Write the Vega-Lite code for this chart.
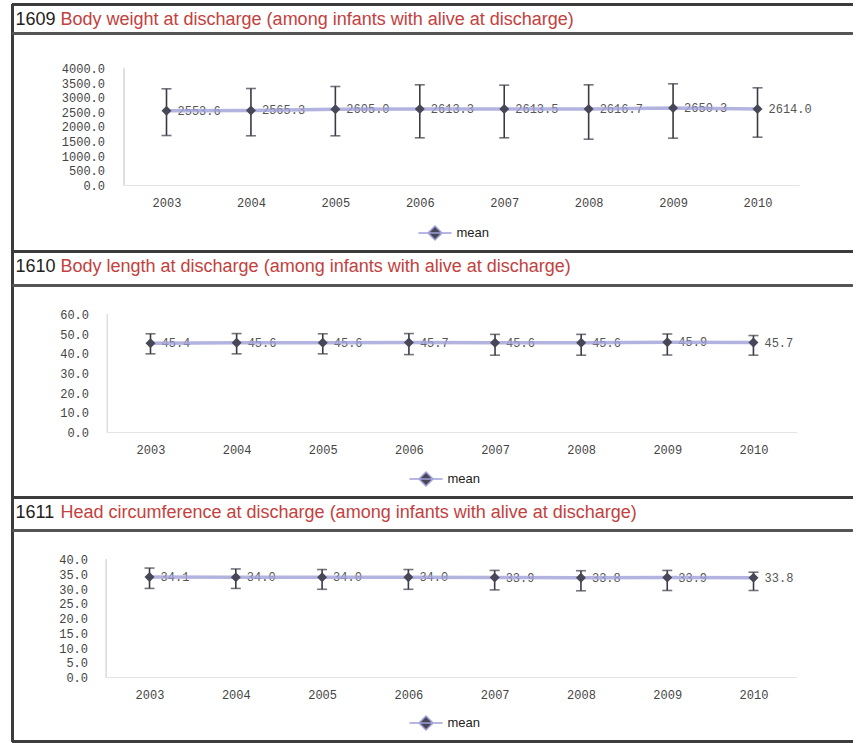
{
  "$schema": "https://vega.github.io/schema/vega-lite/v6.json",
  "background": "white",
  "padding": {"left": 10.5, "top": 2.5, "right": 0, "bottom": 0},
  "bounds": "flush",
  "spacing": 0,
  "config": {
    "view": {"stroke": null},
    "font": "Liberation Sans",
    "axis": {"labelOverlap": false, "tickCount": 30},
    "title": {
      "anchor": "start", "frame": "group", "orient": "top", "offset": -26, "dx": 3,
      "font": "Liberation Sans", "fontSize": 18, "fontWeight": "normal", "color": "#222222",
      "subtitleFont": "Liberation Sans", "subtitleFontSize": 18, "subtitleColor": "#c3413e",
      "subtitlePadding": -18, "lineHeight": 18, "subtitleLineHeight": 18
    },
    "legend": {"padding": 0}
  },
  "resolve": {"scale": {"x": "independent", "y": "independent", "color": "independent"}},
  "vconcat": [
    {
      "width": 840, "height": 247,
      "title": {"text": "1609", "subtitle": "Body weight at discharge (among infants with alive at discharge)",
        "encode": {"subtitle": {"update": {"dx": {"value": 48}}}}},
      "data": {"values": [
        {"year": 2003, "mean": 2553.6, "lo": 1709, "hi": 3306},
        {"year": 2004, "mean": 2565.3, "lo": 1699, "hi": 3316},
        {"year": 2005, "mean": 2605.0, "lo": 1699, "hi": 3385},
        {"year": 2006, "mean": 2613.3, "lo": 1630, "hi": 3442},
        {"year": 2007, "mean": 2613.5, "lo": 1630, "hi": 3430},
        {"year": 2008, "mean": 2616.7, "lo": 1583, "hi": 3442},
        {"year": 2009, "mean": 2650.3, "lo": 1618, "hi": 3476},
        {"year": 2010, "mean": 2614.0, "lo": 1652, "hi": 3340}
      ]},
      "layer": [
        {
          "mark": {"type": "rule", "color": "#3a3a46", "strokeWidth": 1.6},
          "encoding": {
            "x": {"field": "year", "type": "quantitative",
              "scale": {"domain": [2001.176, 2011.125], "nice": false, "zero": false},
              "axis": {"orient": "bottom", "offset": -66, "values": [2003, 2004, 2005, 2006, 2007, 2008, 2009, 2010], "tickCount": 30, "format": "d", "title": null, "domain": false, "ticks": false, "tickSize": 0, "grid": false, "labelPadding": 12, "labelFont": "Liberation Mono", "labelFontSize": 12, "labelColor": "#444444", "labelFlush": false, "labelOverlap": false}},
            "y": {"field": "lo", "type": "quantitative",
              "scale": {"domain": [-2256.4, 6188], "nice": false, "zero": false},
              "axis": {"orient": "left", "offset": -112, "values": [0, 500, 1000, 1500, 2000, 2500, 3000, 3500, 4000], "tickCount": 30, "format": ".1f", "title": null, "domain": false, "ticks": false, "tickSize": 0, "grid": false, "labelPadding": 20, "labelFont": "Liberation Mono", "labelFontSize": 12, "labelColor": "#444444", "labelOverlap": false}},
            "y2": {"field": "hi"}
          }
        },
        {"mark": {"type": "rule", "color": "#dedede", "strokeWidth": 1}, "encoding": {"x": {"datum": 2002.5, "type": "quantitative"}, "y": {"datum": 0, "type": "quantitative"}, "y2": {"datum": 4000}}},
        {"mark": {"type": "rule", "color": "#e4e4e4", "strokeWidth": 1}, "encoding": {"y": {"datum": 0, "type": "quantitative"}, "x": {"datum": 2002.5, "type": "quantitative"}, "x2": {"datum": 2010.5}}},
        {"mark": {"type": "tick", "orient": "horizontal", "color": "#3a3a46", "thickness": 1.6, "size": 10},
         "encoding": {"x": {"field": "year", "type": "quantitative"}, "y": {"field": "lo", "type": "quantitative"}}},
        {"mark": {"type": "tick", "orient": "horizontal", "color": "#3a3a46", "thickness": 1.6, "size": 10},
         "encoding": {"x": {"field": "year", "type": "quantitative"}, "y": {"field": "hi", "type": "quantitative"}}},
        {"mark": {"type": "text", "align": "left", "baseline": "middle", "dx": 11, "font": "Liberation Mono", "fontSize": 12, "color": "#555555"},
         "encoding": {"x": {"field": "year", "type": "quantitative"}, "y": {"field": "mean", "type": "quantitative"}, "text": {"field": "mean", "type": "quantitative", "format": ".1f"}}},
        {"mark": {"type": "line", "strokeWidth": 3.5, "opacity": 0.8, "color": "#a0a0d8"},
         "encoding": {"x": {"field": "year", "type": "quantitative"}, "y": {"field": "mean", "type": "quantitative"}}},
        {"mark": {"type": "point", "shape": "diamond", "filled": true, "size": 100, "opacity": 1},
         "encoding": {"x": {"field": "year", "type": "quantitative"}, "y": {"field": "mean", "type": "quantitative"},
           "color": {"datum": "mean", "type": "nominal", "scale": {"range": ["#474757"]},
             "legend": {"title": null, "orient": "none", "legendX": 405, "legendY": 211, "symbolType": "M-1,0H1M0,-0.42L0.42,0L0,0.42L-0.42,0Z", "symbolSize": 1100, "symbolStrokeWidth": 1.5, "symbolStrokeColor": "#a0a0d8", "symbolFillColor": "#474757", "symbolOpacity": 1, "labelFont": "Liberation Sans", "labelFontSize": 13, "labelColor": "#222222", "labelOffset": 4}}}},
        {"mark": {"type": "rule", "color": "#3c3c3c", "strokeWidth": 3}, "encoding": {"x": {"datum": 2001.176, "type": "quantitative"}}},
        {"mark": {"type": "rule", "color": "#3c3c3c", "strokeWidth": 3}, "encoding": {"y": {"datum": 6188, "type": "quantitative"}}},
        {"mark": {"type": "rule", "color": "#555555", "strokeWidth": 2}, "encoding": {"y": {"datum": 5197, "type": "quantitative"}}},
        {"mark": {"type": "rule", "color": "#3c3c3c", "strokeWidth": 3}, "encoding": {"y": {"datum": -2256.4, "type": "quantitative"}}}
      ]
    },
    {
      "width": 840, "height": 246,
      "title": {"text": "1610", "subtitle": "Body length at discharge (among infants with alive at discharge)",
        "encode": {"subtitle": {"update": {"dx": {"value": 48}}}}},
      "data": {"values": [
        {"year": 2003, "mean": 45.4, "lo": 40.0, "hi": 50.2},
        {"year": 2004, "mean": 45.6, "lo": 40.0, "hi": 50.3},
        {"year": 2005, "mean": 45.6, "lo": 40.0, "hi": 50.2},
        {"year": 2006, "mean": 45.7, "lo": 39.6, "hi": 50.3},
        {"year": 2007, "mean": 45.6, "lo": 39.3, "hi": 49.9},
        {"year": 2008, "mean": 45.6, "lo": 39.3, "hi": 49.9},
        {"year": 2009, "mean": 45.9, "lo": 39.4, "hi": 50.1},
        {"year": 2010, "mean": 45.7, "lo": 39.3, "hi": 49.3}
      ]},
      "layer": [
        {
          "mark": {"type": "rule", "color": "#3a3a46", "strokeWidth": 1.6},
          "encoding": {
            "x": {"field": "year", "type": "quantitative",
              "scale": {"domain": [2001.398, 2011.15], "nice": false, "zero": false},
              "axis": {"orient": "bottom", "offset": -65, "values": [2003, 2004, 2005, 2006, 2007, 2008, 2009, 2010], "tickCount": 30, "format": "d", "title": null, "domain": false, "ticks": false, "tickSize": 0, "grid": false, "labelPadding": 12, "labelFont": "Liberation Mono", "labelFontSize": 12, "labelColor": "#444444", "labelFlush": false, "labelOverlap": false}},
            "y": {"field": "lo", "type": "quantitative",
              "scale": {"domain": [-33.05, 92.03], "nice": false, "zero": false},
              "axis": {"orient": "left", "offset": -95, "values": [0, 10, 20, 30, 40, 50, 60], "tickCount": 30, "format": ".1f", "title": null, "domain": false, "ticks": false, "tickSize": 0, "grid": false, "labelPadding": 19, "labelFont": "Liberation Mono", "labelFontSize": 12, "labelColor": "#444444", "labelOverlap": false}},
            "y2": {"field": "hi"}
          }
        },
        {"mark": {"type": "rule", "color": "#dedede", "strokeWidth": 1}, "encoding": {"x": {"datum": 2002.5, "type": "quantitative"}, "y": {"datum": 0, "type": "quantitative"}, "y2": {"datum": 60}}},
        {"mark": {"type": "rule", "color": "#e4e4e4", "strokeWidth": 1}, "encoding": {"y": {"datum": 0, "type": "quantitative"}, "x": {"datum": 2002.5, "type": "quantitative"}, "x2": {"datum": 2010.5}}},
        {"mark": {"type": "tick", "orient": "horizontal", "color": "#3a3a46", "thickness": 1.6, "size": 10},
         "encoding": {"x": {"field": "year", "type": "quantitative"}, "y": {"field": "lo", "type": "quantitative"}}},
        {"mark": {"type": "tick", "orient": "horizontal", "color": "#3a3a46", "thickness": 1.6, "size": 10},
         "encoding": {"x": {"field": "year", "type": "quantitative"}, "y": {"field": "hi", "type": "quantitative"}}},
        {"mark": {"type": "text", "align": "left", "baseline": "middle", "dx": 11, "font": "Liberation Mono", "fontSize": 12, "color": "#555555"},
         "encoding": {"x": {"field": "year", "type": "quantitative"}, "y": {"field": "mean", "type": "quantitative"}, "text": {"field": "mean", "type": "quantitative", "format": ".1f"}}},
        {"mark": {"type": "line", "strokeWidth": 3.5, "opacity": 0.8, "color": "#a0a0d8"},
         "encoding": {"x": {"field": "year", "type": "quantitative"}, "y": {"field": "mean", "type": "quantitative"}}},
        {"mark": {"type": "point", "shape": "diamond", "filled": true, "size": 100, "opacity": 1},
         "encoding": {"x": {"field": "year", "type": "quantitative"}, "y": {"field": "mean", "type": "quantitative"},
           "color": {"datum": "mean", "type": "nominal", "scale": {"range": ["#474757"]},
             "legend": {"title": null, "orient": "none", "legendX": 396, "legendY": 210, "symbolType": "M-1,0H1M0,-0.42L0.42,0L0,0.42L-0.42,0Z", "symbolSize": 1100, "symbolStrokeWidth": 1.5, "symbolStrokeColor": "#a0a0d8", "symbolFillColor": "#474757", "symbolOpacity": 1, "labelFont": "Liberation Sans", "labelFontSize": 13, "labelColor": "#222222", "labelOffset": 4}}}},
        {"mark": {"type": "rule", "color": "#3c3c3c", "strokeWidth": 3}, "encoding": {"x": {"datum": 2001.398, "type": "quantitative"}}},
        {"mark": {"type": "rule", "color": "#3c3c3c", "strokeWidth": 3}, "encoding": {"y": {"datum": 92.03, "type": "quantitative"}}},
        {"mark": {"type": "rule", "color": "#555555", "strokeWidth": 2}, "encoding": {"y": {"datum": 74.75, "type": "quantitative"}}},
        {"mark": {"type": "rule", "color": "#3c3c3c", "strokeWidth": 3}, "encoding": {"y": {"datum": -33.05, "type": "quantitative"}}}
      ]
    },
    {
      "width": 840, "height": 244,
      "title": {"text": "1611", "subtitle": "Head circumference at discharge (among infants with alive at discharge)",
        "encode": {"subtitle": {"update": {"dx": {"value": 48}}}}},
      "data": {"values": [
        {"year": 2003, "mean": 34.1, "lo": 30.2, "hi": 37.1},
        {"year": 2004, "mean": 34.0, "lo": 30.2, "hi": 36.8},
        {"year": 2005, "mean": 34.0, "lo": 29.9, "hi": 36.6},
        {"year": 2006, "mean": 34.0, "lo": 29.9, "hi": 36.6},
        {"year": 2007, "mean": 33.9, "lo": 29.7, "hi": 36.3},
        {"year": 2008, "mean": 33.8, "lo": 29.4, "hi": 36.2},
        {"year": 2009, "mean": 33.9, "lo": 29.5, "hi": 36.3},
        {"year": 2010, "mean": 33.8, "lo": 29.5, "hi": 35.7}
      ]},
      "layer": [
        {
          "mark": {"type": "rule", "color": "#3a3a46", "strokeWidth": 1.6},
          "encoding": {
            "x": {"field": "year", "type": "quantitative",
              "scale": {"domain": [2001.412, 2011.147], "nice": false, "zero": false},
              "axis": {"orient": "bottom", "offset": -64, "values": [2003, 2004, 2005, 2006, 2007, 2008, 2009, 2010], "tickCount": 30, "format": "d", "title": null, "domain": false, "ticks": false, "tickSize": 0, "grid": false, "labelPadding": 12, "labelFont": "Liberation Mono", "labelFontSize": 12, "labelColor": "#444444", "labelFlush": false, "labelOverlap": false}},
            "y": {"field": "lo", "type": "quantitative",
              "scale": {"domain": [-21.69, 61.02], "nice": false, "zero": false},
              "axis": {"orient": "left", "offset": -93, "values": [0, 5, 10, 15, 20, 25, 30, 35, 40], "tickCount": 30, "format": ".1f", "title": null, "domain": false, "ticks": false, "tickSize": 0, "grid": false, "labelPadding": 18, "labelFont": "Liberation Mono", "labelFontSize": 12, "labelColor": "#444444", "labelOverlap": false}},
            "y2": {"field": "hi"}
          }
        },
        {"mark": {"type": "rule", "color": "#dedede", "strokeWidth": 1}, "encoding": {"x": {"datum": 2002.5, "type": "quantitative"}, "y": {"datum": 0, "type": "quantitative"}, "y2": {"datum": 40}}},
        {"mark": {"type": "rule", "color": "#e4e4e4", "strokeWidth": 1}, "encoding": {"y": {"datum": 0, "type": "quantitative"}, "x": {"datum": 2002.5, "type": "quantitative"}, "x2": {"datum": 2010.5}}},
        {"mark": {"type": "tick", "orient": "horizontal", "color": "#3a3a46", "thickness": 1.6, "size": 10},
         "encoding": {"x": {"field": "year", "type": "quantitative"}, "y": {"field": "lo", "type": "quantitative"}}},
        {"mark": {"type": "tick", "orient": "horizontal", "color": "#3a3a46", "thickness": 1.6, "size": 10},
         "encoding": {"x": {"field": "year", "type": "quantitative"}, "y": {"field": "hi", "type": "quantitative"}}},
        {"mark": {"type": "text", "align": "left", "baseline": "middle", "dx": 11, "font": "Liberation Mono", "fontSize": 12, "color": "#555555"},
         "encoding": {"x": {"field": "year", "type": "quantitative"}, "y": {"field": "mean", "type": "quantitative"}, "text": {"field": "mean", "type": "quantitative", "format": ".1f"}}},
        {"mark": {"type": "line", "strokeWidth": 3.5, "opacity": 0.8, "color": "#a0a0d8"},
         "encoding": {"x": {"field": "year", "type": "quantitative"}, "y": {"field": "mean", "type": "quantitative"}}},
        {"mark": {"type": "point", "shape": "diamond", "filled": true, "size": 100, "opacity": 1},
         "encoding": {"x": {"field": "year", "type": "quantitative"}, "y": {"field": "mean", "type": "quantitative"},
           "color": {"datum": "mean", "type": "nominal", "scale": {"range": ["#474757"]},
             "legend": {"title": null, "orient": "none", "legendX": 396, "legendY": 208, "symbolType": "M-1,0H1M0,-0.42L0.42,0L0,0.42L-0.42,0Z", "symbolSize": 1100, "symbolStrokeWidth": 1.5, "symbolStrokeColor": "#a0a0d8", "symbolFillColor": "#474757", "symbolOpacity": 1, "labelFont": "Liberation Sans", "labelFontSize": 13, "labelColor": "#222222", "labelOffset": 4}}}},
        {"mark": {"type": "rule", "color": "#3c3c3c", "strokeWidth": 3}, "encoding": {"x": {"datum": 2001.412, "type": "quantitative"}}},
        {"mark": {"type": "rule", "color": "#3c3c3c", "strokeWidth": 3}, "encoding": {"y": {"datum": 61.02, "type": "quantitative"}}},
        {"mark": {"type": "rule", "color": "#555555", "strokeWidth": 2}, "encoding": {"y": {"datum": 49.83, "type": "quantitative"}}},
        {"mark": {"type": "rule", "color": "#3c3c3c", "strokeWidth": 3}, "encoding": {"y": {"datum": -21.69, "type": "quantitative"}}}
      ]
    }
  ]
}
